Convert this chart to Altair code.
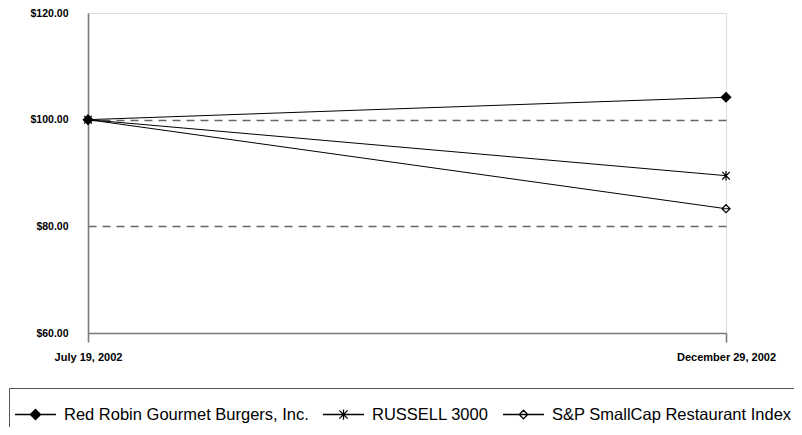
import altair as alt
import pandas as pd

dates = ["July 19, 2002", "December 29, 2002"]
series = ["Red Robin Gourmet Burgers, Inc.", "RUSSELL 3000", "S&P SmallCap Restaurant Index"]
red_robin = [100.0, 104.2]
russell = [100.0, 89.5]
sp_small = [100.0, 83.3]

rows = []
# drawn in reverse so the filled Red Robin marker sits on top
for name, vals in reversed(list(zip(series, [red_robin, russell, sp_small]))):
    for d, v in zip(dates, vals):
        rows.append({"date": d, "series": name, "value": v})
df = pd.DataFrame(rows)

# marker shapes (unit coords)
chart_shapes = [
    "M0,-1L1,0L0,1L-1,0Z",
    "M-0.8,-0.8L0.8,0.8M-0.8,0.8L0.8,-0.8M0,-1L0,1",
    "M0,-0.85L0.85,0L0,0.85L-0.85,0ZM-0.85,0L0.85,0",
]
legend_shapes = [
    "M-1,0L1,0M0,-0.25L0.25,0L0,0.25L-0.25,0Z",
    "M-1,0L1,0M-0.2,-0.2L0.2,0.2M-0.2,0.2L0.2,-0.2M0,-0.25L0,0.25",
    "M-1,0L1,0M0,-0.21L0.21,0L0,0.21L-0.21,0Z",
]
fills = ["black", "white", "white"]
strokes = ["black", "black", "black"]

x_enc = alt.X("date:N", sort=dates, scale=alt.Scale(type="point", padding=0),
              axis=alt.Axis(title=None, labelAngle=0, ticks=True, tickSize=9,
                            tickColor="#7a7a7a", tickWidth=1.6, labelPadding=9,
                            labelFontSize=11, labelFontWeight="bold",
                            labelFont="Liberation Sans", labelColor="black",
                            domainColor="#7a7a7a", domainWidth=1.6, grid=False))
y_enc = alt.Y("value:Q", scale=alt.Scale(domain=[60, 120], nice=False),
              axis=alt.Axis(title=None, values=[60, 80, 100, 120], format="$.2f",
                            ticks=False, labelPadding=20, labelFontSize=10.5,
                            labelFontWeight="bold", labelFont="Liberation Sans",
                            labelColor="black", domainColor="#7a7a7a", domainWidth=1.6,
                            grid=True, gridDash=[8, 6], gridColor="#666666",
                            gridWidth=1.3,
                            gridOpacity={"condition": {"test": "datum.value <= 60 || datum.value >= 120", "value": 0}, "value": 1}))

base = alt.Chart(df)

lines = base.mark_line(color="black", strokeWidth=1).encode(
    x=x_enc, y=y_enc, detail="series:N"
)

points = base.mark_point(stroke="black", strokeWidth=1.2, opacity=1, size=90).encode(
    x=x_enc, y=y_enc,
    shape=alt.Shape("series:N", scale=alt.Scale(domain=series, range=chart_shapes), legend=None),
    fill=alt.Fill("series:N", scale=alt.Scale(domain=series, range=fills), legend=None),
)

leg_props = dict(
    title=None, orient="none", legendX=-79, legendY=375, direction="horizontal",
    columns=3, strokeColor="#555555", padding=5, symbolSize=1681,
    labelFontSize=16.5, labelFont="Liberation Sans", labelColor="black",
    labelOffset=7, columnPadding=11, symbolStrokeWidth=1.3,
    symbolStrokeColor="black", labelLimit=400,
)

legend_layer = base.mark_point(strokeWidth=1.3, opacity=1).encode(
    x=x_enc, y=y_enc,
    shape=alt.Shape("series:N", scale=alt.Scale(domain=series, range=legend_shapes),
                    legend=alt.Legend(**leg_props)),
    fill=alt.Fill("series:N", scale=alt.Scale(domain=series, range=fills),
                  legend=alt.Legend(**leg_props)),
    stroke=alt.Stroke("series:N", scale=alt.Scale(domain=series, range=strokes),
                      legend=alt.Legend(**leg_props)),
).transform_filter("false")

chart = alt.layer(lines, points, legend_layer).resolve_scale(
    shape="independent", fill="independent", stroke="independent"
).properties(
    width=638, height=320,
    autosize=alt.AutoSizeParams(type="none"),
    padding={"left": 80, "top": 5, "right": 68, "bottom": 94},
).configure_view(stroke="#7a7a7a", strokeWidth=1.6).configure(background="white")

chart.save("out.html", embed_options={"renderer": "svg", "actions": False})
